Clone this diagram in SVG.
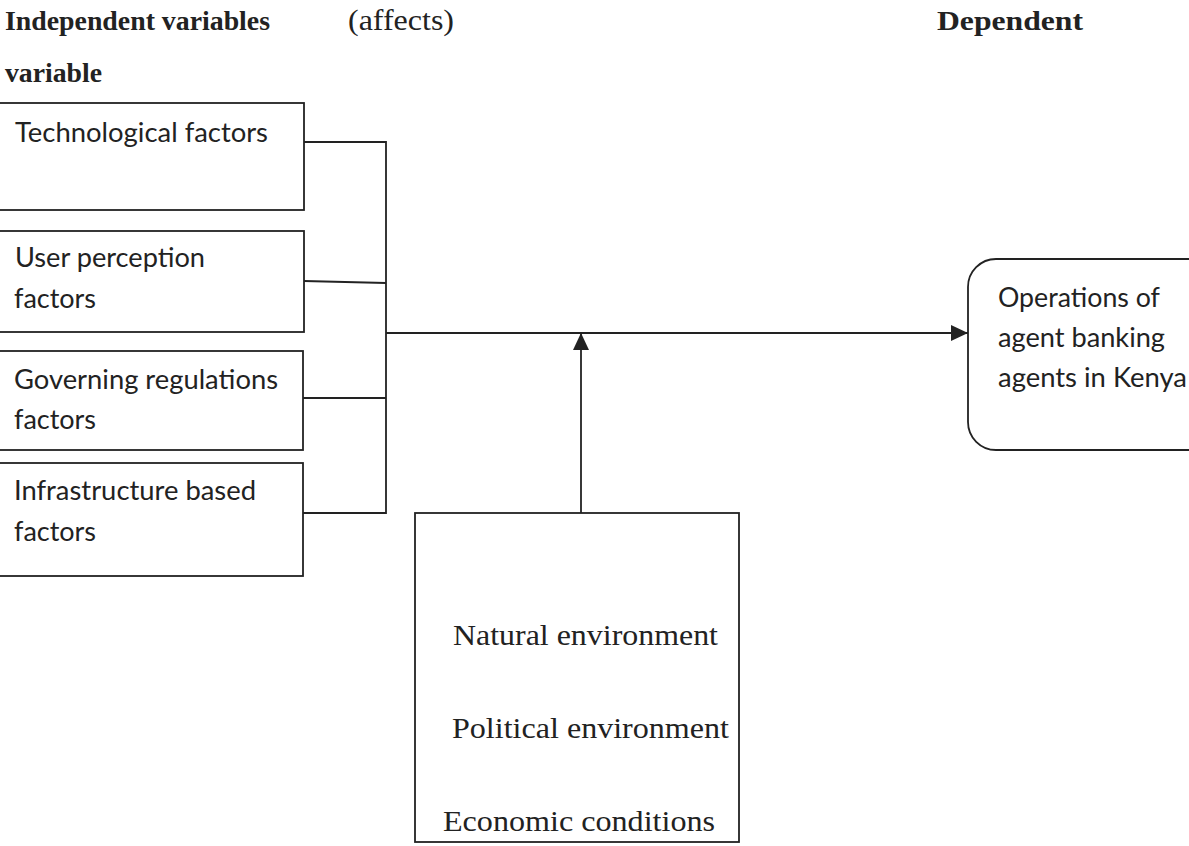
<svg xmlns="http://www.w3.org/2000/svg" width="1189" height="846" viewBox="0 0 1189 846">
<style>
.bx{fill:#fff;stroke:#222;stroke-width:1.8}
.ln{fill:none;stroke:#222;stroke-width:1.8}
.sans{font-family:Lato,"Open Sans","Liberation Sans",sans-serif;font-size:26px;fill:#222}
.ser{font-family:"Liberation Serif","Times New Roman",serif;font-size:30px;fill:#222}
.hd{font-family:"Liberation Serif","Times New Roman",serif;font-size:28px;font-weight:bold;fill:#222}
</style>
<defs>
<marker id="ah" viewBox="0 0 17 16" refX="17" refY="8" markerWidth="17" markerHeight="16" markerUnits="userSpaceOnUse" orient="auto">
<path d="M0,0 L17,8 L0,16 Z" fill="#222"/>
</marker>
</defs>
<rect width="1189" height="846" fill="#fff"/>
<g id="headers">
<text class="hd" x="5" y="30" textLength="265" lengthAdjust="spacingAndGlyphs">Independent variables</text>
<text class="ser" x="348" y="30" font-size="28" textLength="106" lengthAdjust="spacingAndGlyphs">(affects)</text>
<text class="hd" x="937" y="30" textLength="146" lengthAdjust="spacingAndGlyphs">Dependent</text>
<text class="hd" x="5" y="82" textLength="97" lengthAdjust="spacingAndGlyphs">variable</text>
</g>
<g id="connectors">
<polyline class="ln" points="304,142 386,142 386,513 303,513"/>
<line class="ln" x1="304" y1="281" x2="386" y2="283"/>
<line class="ln" x1="303" y1="398" x2="386" y2="398"/>
<line class="ln" x1="386" y1="333" x2="968" y2="333" marker-end="url(#ah)"/>
<line class="ln" x1="581" y1="513" x2="581" y2="333" marker-end="url(#ah)"/>
</g>
<g id="node-tech">
<rect class="bx" x="-10" y="103" width="314" height="107"/>
<text class="sans" x="15" y="142" textLength="253" lengthAdjust="spacingAndGlyphs">Technological factors</text>
</g>
<g id="node-user">
<rect class="bx" x="-10" y="231" width="314" height="101"/>
<text class="sans" x="15" y="267" textLength="190" lengthAdjust="spacingAndGlyphs">User perception</text>
<text class="sans" x="14" y="308" textLength="82" lengthAdjust="spacingAndGlyphs">factors</text>
</g>
<g id="node-gov">
<rect class="bx" x="-10" y="351" width="313" height="99"/>
<text class="sans" x="14" y="389" textLength="264" lengthAdjust="spacingAndGlyphs">Governing regulations</text>
<text class="sans" x="14" y="429" textLength="82" lengthAdjust="spacingAndGlyphs">factors</text>
</g>
<g id="node-infra">
<rect class="bx" x="-10" y="463" width="313" height="113"/>
<text class="sans" x="14" y="500" textLength="242" lengthAdjust="spacingAndGlyphs">Infrastructure based</text>
<text class="sans" x="14" y="541" textLength="82" lengthAdjust="spacingAndGlyphs">factors</text>
</g>
<g id="node-env">
<rect class="bx" x="415" y="513" width="324" height="329"/>
<text class="ser" x="453" y="645" textLength="265" lengthAdjust="spacingAndGlyphs">Natural environment</text>
<text class="ser" x="452" y="738" textLength="277" lengthAdjust="spacingAndGlyphs">Political environment</text>
<text class="ser" x="443" y="831" textLength="272" lengthAdjust="spacingAndGlyphs">Economic conditions</text>
</g>
<g id="node-ops">
<rect class="bx" x="968" y="259" width="260" height="191" rx="28" ry="28"/>
<text class="sans" x="998" y="307" textLength="162" lengthAdjust="spacingAndGlyphs">Operations of</text>
<text class="sans" x="998" y="347" textLength="167" lengthAdjust="spacingAndGlyphs">agent banking</text>
<text class="sans" x="998" y="387" textLength="189" lengthAdjust="spacingAndGlyphs">agents in Kenya</text>
</g>
</svg>
